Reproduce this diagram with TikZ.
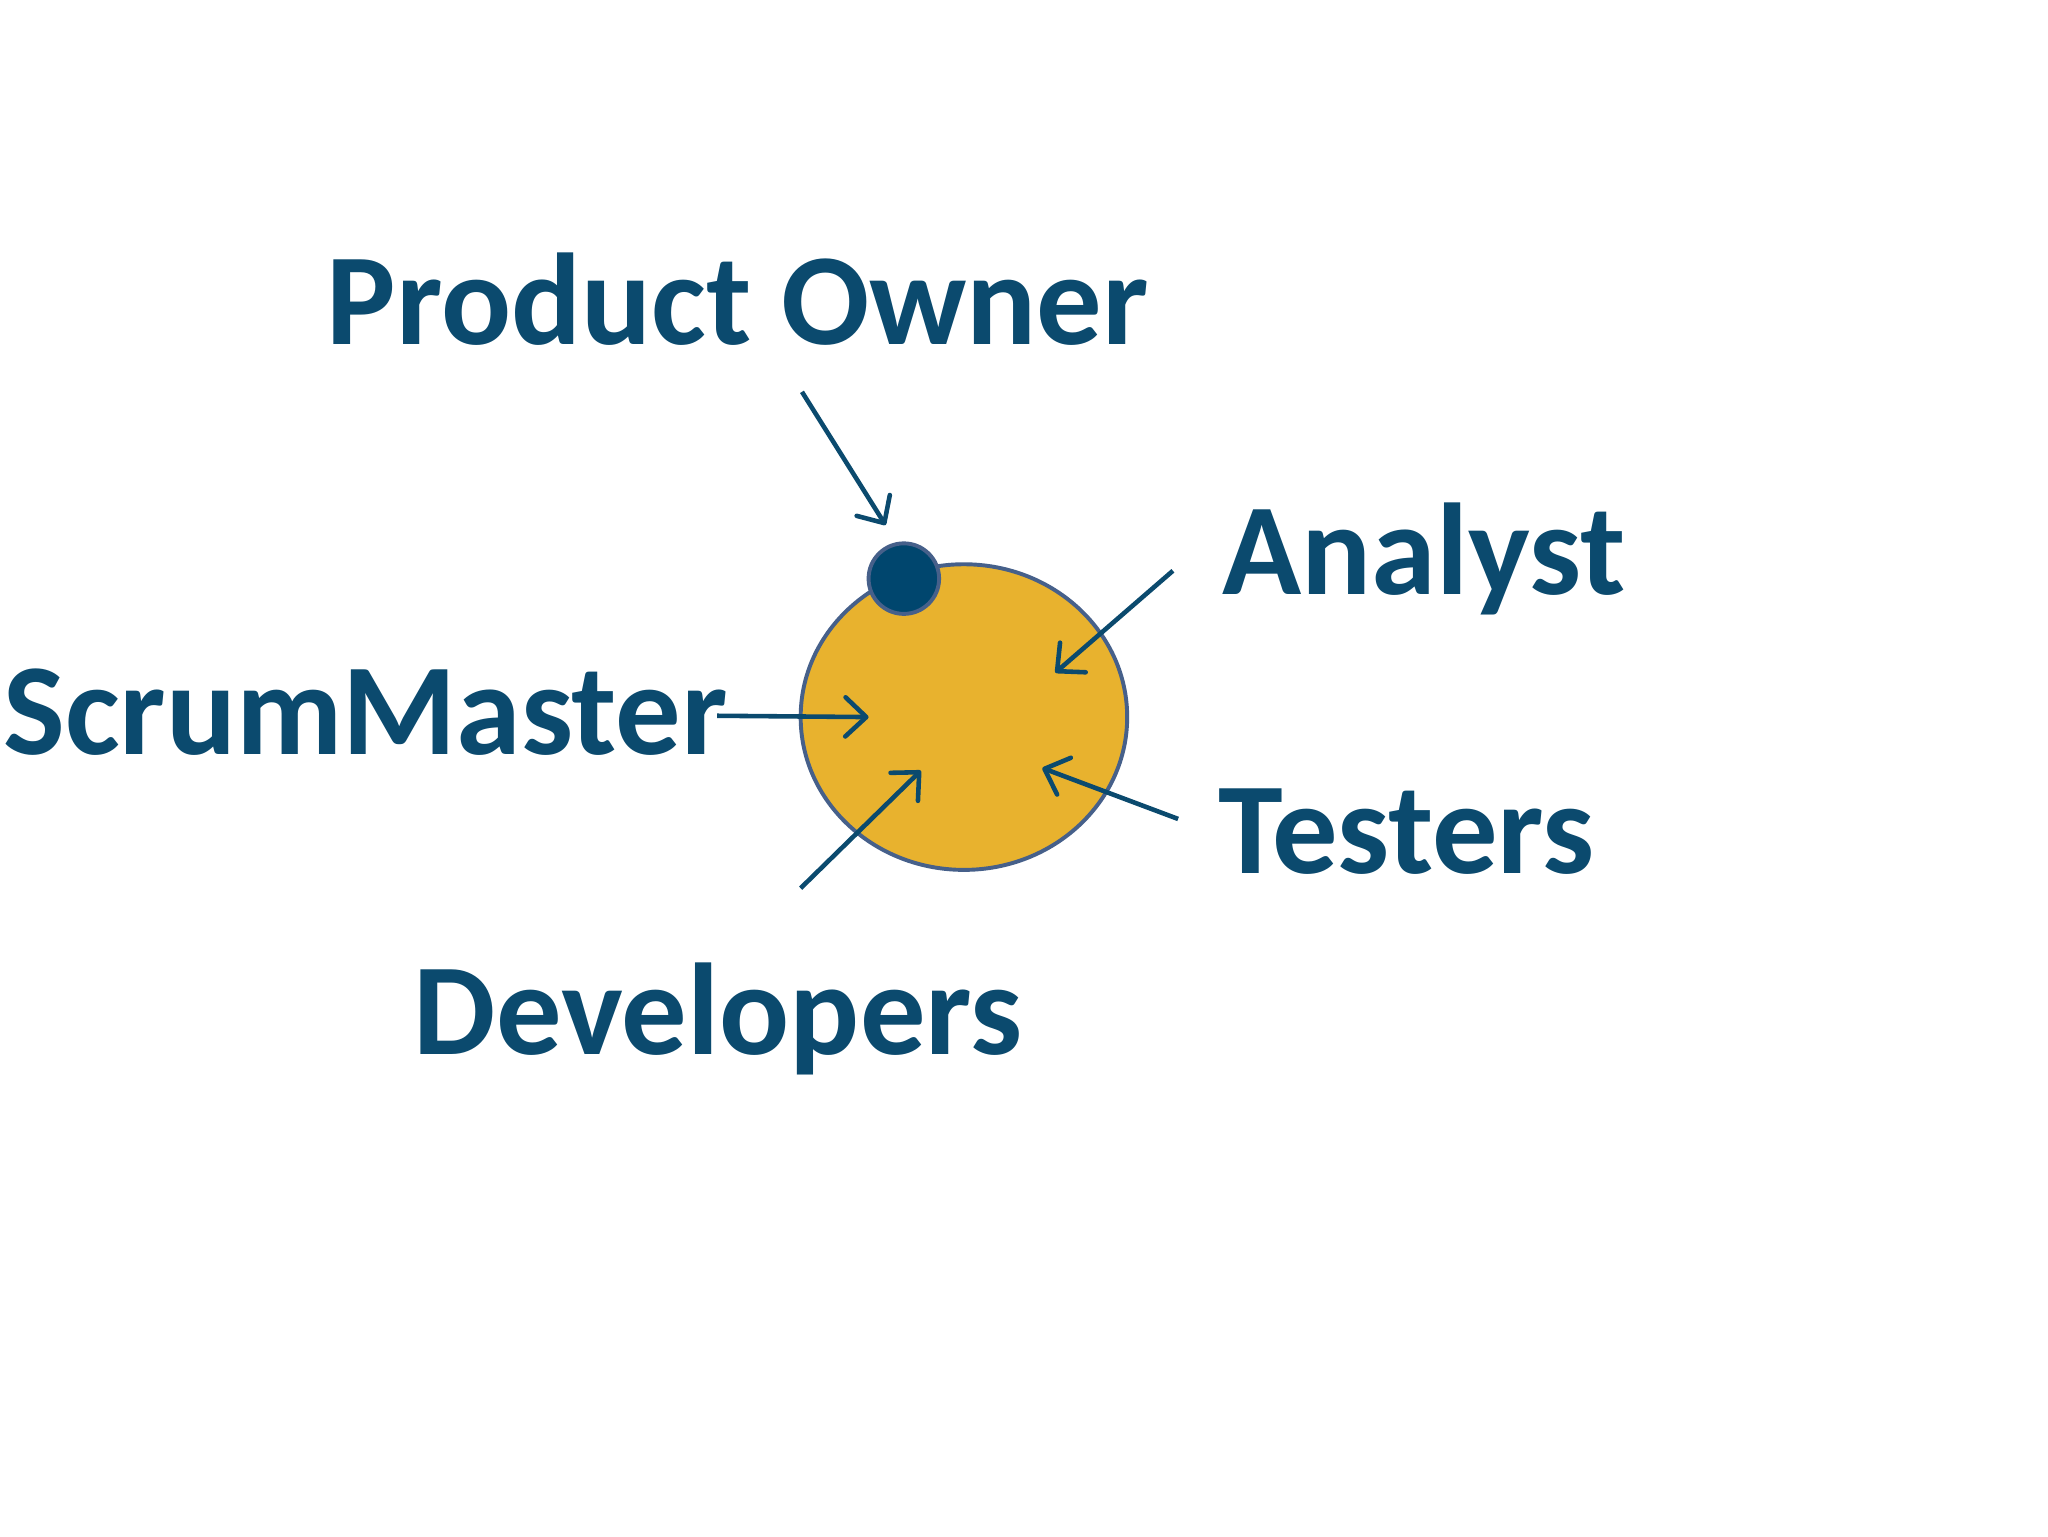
\documentclass[tikz,border=0pt]{standalone}
\usepackage{fontspec}
\setmainfont{Carlito}
\usetikzlibrary{arrows.meta}
\definecolor{txtblue}{HTML}{0B4A6E}
\definecolor{orb}{HTML}{E8B22E}
\definecolor{rim}{HTML}{46608A}
\definecolor{dotblue}{HTML}{00466E}
\tikzset{
  lbl/.style={text=txtblue,font=\fontsize{100}{100}\selectfont\bfseries,inner sep=0pt},
  arr/.style={draw=txtblue,line width=3.5pt,-{Straight Barb[length=16pt,width=30pt,line cap=round,round]}}
}
\begin{document}
\begin{tikzpicture}[x=1pt,y=-1pt]
\useasboundingbox[fill=white] (0,0) rectangle (1568,1176);
\draw[rim,fill=orb,line width=3pt] (738,549) ellipse [x radius=125,y radius=117];
\node[circle,minimum size=54pt,inner sep=0pt,fill=dotblue,draw=rim,line width=3pt] (dot) at (692,443) {};
\node[lbl] (po) at (565,229) {Product Owner};
\node[lbl] (an) at (1090,428) {Analyst};
\node[lbl] (sm) at (280,545) {ScrumMaster};
\node[lbl] (te) at (1077,637) {Testers};
\node[lbl] (de) at (550,780) {Developers};
\coordinate (po1) at (614,300); \coordinate (po2) at (678,402);
\coordinate (an1) at (898,437); \coordinate (an2) at (808,515);
\coordinate (sm1) at (549,548); \coordinate (sm2) at (665,549);
\coordinate (de1) at (613,680); \coordinate (de2) at (705,590);
\coordinate (te1) at (902,627); \coordinate (te2) at (798,588);
\draw[arr] (po1) -- (po2);
\draw[arr] (an1) -- (an2);
\draw[arr] (sm1) -- (sm2);
\draw[arr] (de1) -- (de2);
\draw[arr] (te1) -- (te2);
\end{tikzpicture}
\end{document}
